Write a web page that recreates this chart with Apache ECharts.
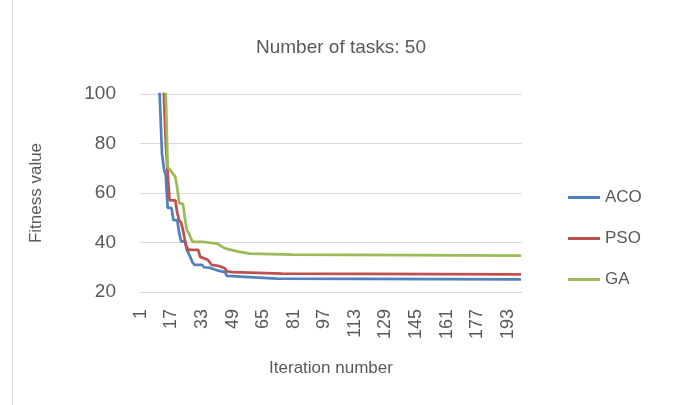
<!DOCTYPE html>
<html>
<head>
<meta charset="utf-8">
<script src="https://cdn.jsdelivr.net/npm/echarts@6/dist/echarts.min.js"></script>
<style>
  html, body { margin: 0; padding: 0; background: #fff; }
  #chart { width: 682px; height: 405px; }
</style>
</head>
<body>
<div id="chart"></div>
<script>
// iterations 1..200 on the category axis
const iterations = [];
for (let i = 1; i <= 200; i++) iterations.push(String(i));

// best fitness so far, as [iteration, value] breakpoints
const acoPoints = [
  [1, 420], [4, 300], [7, 200], [9, 140], [10, 112], [11, 96], [12, 76], [13, 70],
  [14, 67], [15, 54], [17, 54], [18, 49], [20, 49], [21, 44], [22, 40.5], [24, 40.5],
  [25, 37], [26, 35.5], [27, 35], [28, 32], [29, 31], [33, 31], [34, 30], [37, 29.8],
  [38, 29], [42, 28.5], [45, 28], [46, 26.5], [58, 26], [59, 25.5], [72, 25.4],
  [73, 25.1], [200, 25.1]
];
const psoPoints = [
  [1, 450], [5, 320], [9, 200], [12, 120], [13, 100], [14, 80], [15, 68], [16, 57],
  [19, 57], [20, 52], [21, 49], [22, 48], [23, 45], [24, 41], [25, 38], [26, 37],
  [31, 37], [32, 34.2], [33, 33.5], [36, 33], [37, 32.2], [38, 31], [42, 30.5],
  [43, 29.7], [45, 29.5], [46, 28.3], [49, 28], [50, 27.5], [75, 27.4], [76, 27.1],
  [200, 27.1]
];
const gaPoints = [
  [1, 480], [5, 350], [9, 230], [12, 150], [13, 120], [14, 100], [15, 70.5], [17, 68.6],
  [18, 68], [19, 66.5], [20, 62], [21, 56], [23, 55.5], [24, 50], [25, 45], [26, 43.8],
  [27, 42], [28, 40.3], [33, 40.3], [34, 39.6], [41, 39.5], [42, 39], [45, 37.6],
  [46, 37], [52, 36.3], [53, 35.6], [58, 35.5], [59, 35.2], [80, 35.1], [81, 34.8],
  [200, 34.7]
];

const seriesNames = ['ACO', 'PSO', 'GA'];
const seriesColors = ['#4F81BD', '#C0504D', '#9BBB59'];
const seriesPoints = [acoPoints, psoPoints, gaPoints];

const textColor = '#595959';
const fontFamily = 'Liberation Sans, Arial, sans-serif';

const chart = echarts.init(document.getElementById('chart'));

const option = {
  backgroundColor: '#ffffff',
  animation: false,
  title: {
    text: 'Number of tasks: 50',
    left: 'center',
    top: 33,
    textStyle: { color: textColor, fontSize: 19, fontWeight: 'normal', fontFamily: fontFamily }
  },
  legend: {
    orient: 'vertical',
    left: 563,
    top: 184,
    icon: 'rect',
    itemWidth: 32,
    itemHeight: 3,
    itemGap: 24,
    data: seriesNames,
    textStyle: { color: textColor, fontSize: 17, fontFamily: fontFamily }
  },
  grid: { left: 140, right: 160, top: 94, bottom: 113 },
  xAxis: {
    type: 'category',
    data: iterations,
    boundaryGap: true,
    name: 'Iteration number',
    nameLocation: 'middle',
    nameGap: 68,
    nameTextStyle: { color: textColor, fontSize: 17, fontFamily: fontFamily },
    axisLine: { show: true, lineStyle: { color: '#d9d9d9' } },
    axisTick: { show: false },
    axisLabel: {
      interval: 15,
      rotate: 90,
      margin: 17,
      color: textColor,
      fontSize: 18,
      fontFamily: fontFamily
    },
    splitLine: { show: false }
  },
  yAxis: {
    type: 'value',
    min: 20,
    max: 100,
    interval: 20,
    name: 'Fitness value',
    nameLocation: 'middle',
    nameGap: 95,
    nameTextStyle: { color: textColor, fontSize: 17, fontFamily: fontFamily },
    axisLine: { show: false },
    axisTick: { show: false },
    axisLabel: { color: textColor, fontSize: 19, margin: 24, fontFamily: fontFamily },
    splitLine: { lineStyle: { color: '#d9d9d9', width: 1 } }
  },
  graphic: [{
    type: 'line',
    shape: { x1: 12.5, y1: 0, x2: 12.5, y2: 405 },
    style: { stroke: '#d9d9d9', lineWidth: 1 }
  }],
  series: seriesNames.map((name, k) => ({
    name: name,
    type: 'line',
    symbol: 'none',
    clip: true,
    color: seriesColors[k],
    lineStyle: { width: 2.75, color: seriesColors[k] },
    data: seriesPoints[k].map(p => [p[0] - 1, p[1]])
  }))
};

chart.setOption(option);
</script>
</body>
</html>
